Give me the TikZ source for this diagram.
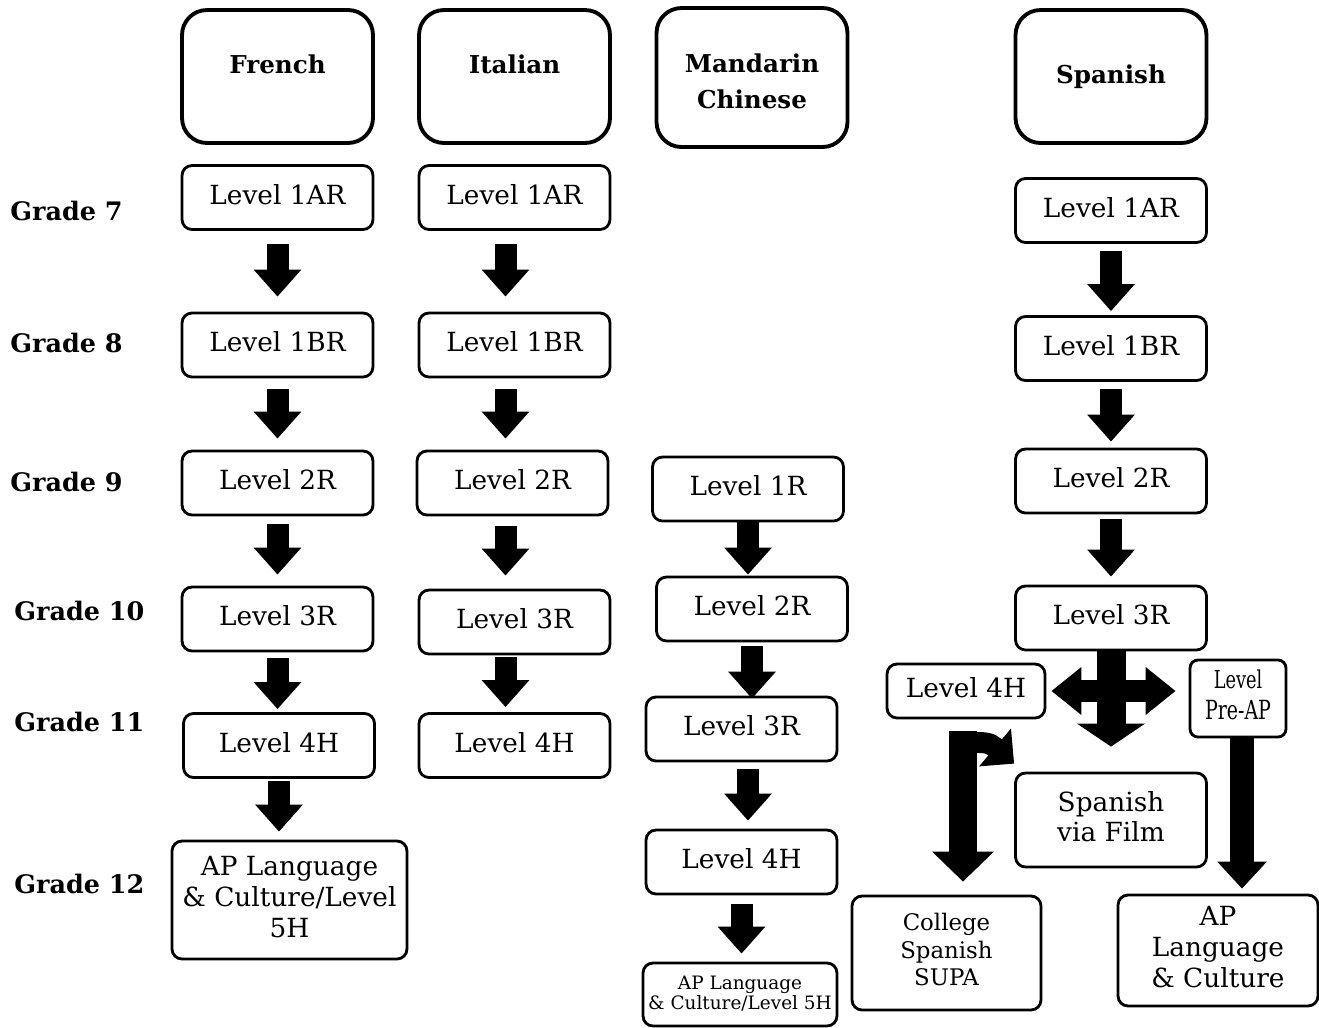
\documentclass[tikz,border=0pt]{standalone}
\usepackage{fontspec}
\setmainfont{DejaVu Serif}
\usetikzlibrary{arrows.meta, calc}

\begin{document}
\begin{tikzpicture}[x=0.02cm, y=-0.02cm,
    lang/.style={draw, line width=2.2pt, rounded corners=0.5cm, minimum width=3.82cm, minimum height=2.66cm, align=center, font=\fontsize{14}{20}\selectfont\bfseries},
    lvl/.style={draw, line width=1.6pt, rounded corners=0.2cm, minimum width=3.82cm, minimum height=1.28cm, inner sep=1pt, text depth=4pt, align=center, font=\fontsize{15}{17.6}\selectfont},
    grade/.style={anchor=west, inner sep=0pt, font=\fontsize{14.5}{18}\selectfont\bfseries},
    fat/.style={line width=0.44cm, -{Triangle[width=0.92cm, length=0.54cm]}}]

    \useasboundingbox (0,0) rectangle (1319,1028);

    %% headers
    \node[lang, text depth=0.5cm] (fr) at (277.5, 76.5) {French};
    \node[lang, text depth=0.5cm] (it) at (514.5, 76.5) {Italian};
    \node[lang, minimum height=2.78cm] (ma) at (752, 77.5) {\rule{0pt}{15pt}Mandarin\\Chinese};
    \node[lang] (sp) at (1111, 76.5) {Spanish};

    %% grades
    \node[grade] (g7) at (10, 211) {Grade 7};
    \node[grade] (g8) at (10, 343) {Grade 8};
    \node[grade] (g9) at (10, 482) {Grade 9};
    \node[grade] (g10) at (14, 611) {Grade 10};
    \node[grade] (g11) at (14, 722) {Grade 11};
    \node[grade] (g12) at (14, 884) {Grade 12};

    %% French
    \node[lvl] (fr1) at (277.5, 197.5) {Level 1AR};
    \node[lvl] (fr2) at (277.5, 345) {Level 1BR};
    \node[lvl] (fr3) at (277.5, 483) {Level 2R};
    \node[lvl] (fr4) at (277.5, 619) {Level 3R};
    \node[lvl] (fr5) at (279, 745.5) {Level 4H};
    \node[lvl, minimum width=4.7cm, minimum height=2.36cm] (fr6) at (289.5, 900) {AP Language\\\& Culture/Level\\5H};
    \draw[fat, shorten <=0.26cm, shorten >=0.3cm] (fr1.south) -- (fr1.south |- fr2.north);
    \draw[fat, shorten <=0.22cm, shorten >=0.22cm] (fr2.south) -- (fr2.south |- fr3.north);
    \draw[fat, shorten <=0.16cm, shorten >=0.22cm] (fr3.south) -- (fr3.south |- fr4.north);
    \draw[fat, shorten <=0.12cm, shorten >=0.06cm] (fr4.south) -- (fr4.south |- fr5.north);
    \draw[fat, shorten <=0.04cm, shorten >=0.16cm] (fr5.south) -- (fr5.south |- fr6.north);

    %% Italian
    \node[lvl] (it1) at (514.5, 197.5) {Level 1AR};
    \node[lvl] (it2) at (514.5, 345) {Level 1BR};
    \node[lvl] (it3) at (512.5, 483) {Level 2R};
    \node[lvl] (it4) at (514.5, 622) {Level 3R};
    \node[lvl] (it5) at (514.5, 745.5) {Level 4H};
    \draw[fat, shorten <=0.26cm, shorten >=0.3cm] ([xshift=-0.18cm]it1.south) -- ([xshift=-0.18cm]it1.south |- it2.north);
    \draw[fat, shorten <=0.22cm, shorten >=0.22cm] ([xshift=-0.18cm]it2.south) -- ([xshift=-0.18cm]it2.south |- it3.north);
    \draw[fat, shorten <=0.2cm, shorten >=0.26cm] ([xshift=-0.14cm]it3.south) -- ([xshift=-0.14cm]it3.south |- it4.north);
    \draw[fat, shorten <=0.04cm, shorten >=0.1cm] ([xshift=-0.18cm]it4.south) -- ([xshift=-0.18cm]it4.south |- it5.north);

    %% Mandarin
    \node[lvl] (ma1) at (748, 489) {Level 1R};
    \node[lvl] (ma2) at (752, 609) {Level 2R};
    \node[lvl] (ma3) at (741.5, 729) {Level 3R};
    \node[lvl] (ma4) at (741.5, 862) {Level 4H};
    \node[lvl, minimum width=3.88cm, minimum height=1.26cm, text depth=2pt, font=\fontsize{10.5}{11}\selectfont] (ma5) at (740, 994.5) {AP Language\\\& Culture/Level 5H};
    \draw[fat, shorten >=0.02cm] (ma1.south) -- (ma1.south |- ma2.north);
    \draw[fat, shorten <=0.08cm, shorten >=-0.06cm] (ma2.south) -- (ma2.south |- ma3.north);
    \draw[fat, shorten <=0.14cm, shorten >=0.16cm] ([xshift=0.13cm]ma3.south) -- ([xshift=0.13cm]ma3.south |- ma4.north);
    \draw[fat, shorten <=0.18cm, shorten >=0.16cm] (ma4.south) -- (ma4.south |- ma5.north);

    %% Spanish
    \node[lvl] (sp1) at (1111, 210.5) {Level 1AR};
    \node[lvl] (sp2) at (1111, 348.5) {Level 1BR};
    \node[lvl] (sp3) at (1111, 481) {Level 2R};
    \node[lvl] (sp4) at (1111, 618) {Level 3R};
    \node[lvl, minimum width=3.16cm, minimum height=1.08cm] (sp4h) at (966, 691) {Level 4H};
    \node[lvl, minimum width=1.92cm, minimum height=1.54cm, rounded corners=0.16cm] (sppre) at (1238, 698.5) {\fontsize{14}{16.4}\selectfont\scalebox{0.72}[1]{Level}\\\scalebox{0.72}[1]{Pre-AP}};
    \node[lvl, minimum height=1.88cm] (spfilm) at (1111, 820) {Spanish\\via Film};
    \node[lvl, minimum width=3.78cm, minimum height=2.28cm, font=\fontsize{13}{15.8}\selectfont] (spsupa) at (946.5, 953) {College\\Spanish\\SUPA};
    \node[lvl, minimum width=4cm, minimum height=2.22cm] (spap) at (1218, 950.5) {AP\\Language\\\& Culture};
    \draw[fat, shorten <=0.14cm, shorten >=0.08cm] (sp1.south) -- (sp1.south |- sp2.north);
    \draw[fat, shorten <=0.14cm, shorten >=0.12cm] (sp2.south) -- (sp2.south |- sp3.north);
    \draw[fat, shorten <=0.1cm, shorten >=0.16cm] (sp3.south) -- (sp3.south |- sp4.north);

    %% cross
    \draw[line width=0.58cm, -{Triangle[width=1.34cm, length=0.46cm]}, shorten >=0.5cm] (sp4.south) -- (spfilm.north);
    \draw[line width=0.44cm, {Triangle[width=0.92cm, length=0.6cm]}-{Triangle[width=0.92cm, length=0.6cm]}, shorten <=0.1cm, shorten >=0.26cm] (sp4h.east) -- (sp4h.east -| sppre.west);

    %% 4H to SUPA, bend to film
    \coordinate (bend) at ($(sp4h.south) + (-3, 23)$);
    \draw[line width=0.56cm, -{Triangle[width=1.2cm, length=0.6cm]}, shorten <=0.24cm, shorten >=0.26cm] ([xshift=-0.06cm]sp4h.south) -- ([xshift=-0.06cm]sp4h.south |- spsupa.north);
    \draw[line width=0.42cm, -{Triangle[width=0.96cm, length=0.5cm]}] (bend) .. controls ($(bend) + (26, 0)$) .. ($(spfilm.north west) + (0, -8)$);

    %% Pre-AP
    \draw[line width=0.48cm, -{Triangle[width=0.96cm, length=0.54cm]}, shorten >=0.1cm] ([xshift=0.08cm]sppre.south) -- ([xshift=0.08cm]sppre.south |- spap.north);
\end{tikzpicture}
\end{document}
